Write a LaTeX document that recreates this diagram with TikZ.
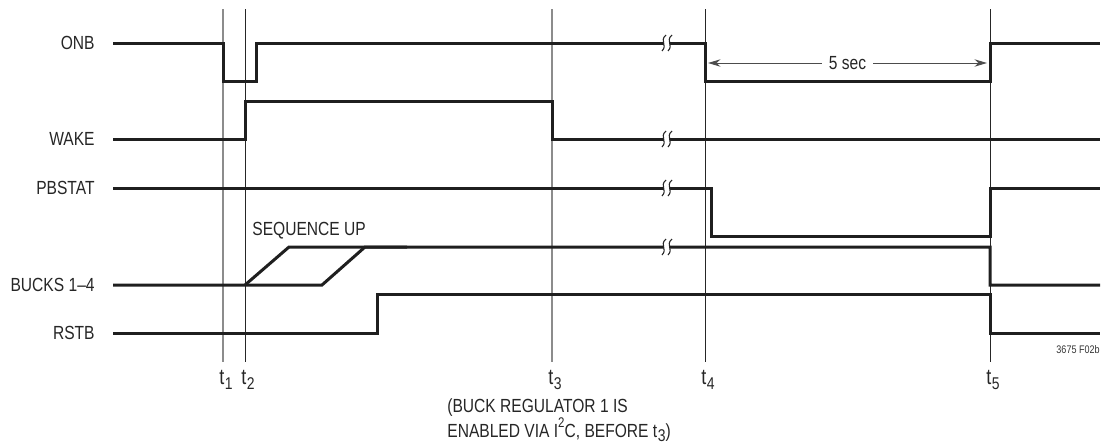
\documentclass[tikz,border=0pt]{standalone}
\usepackage{fontspec}
\setmainfont{Liberation Sans}[FakeStretch=0.82]
\usetikzlibrary{arrows.meta}
\newcommand{\tsub}[1]{t\kern0.3pt\raisebox{-0.45ex}{\fontsize{8.5}{9}\selectfont #1}}

\begin{document}
\begin{tikzpicture}[
  x=0.5pt,y=-0.5pt,
  font=\fontsize{9.5}{10}\selectfont,
  >={Stealth[length=2.2mm,width=1.3mm]},
  sig/.style={line width=1.5pt,draw=black!88,line join=miter},
  timeline/.style={line width=0.5pt,draw=black!85},
  timeline2/.style={line width=0.6pt,draw=black!45},
  siglabel/.style={anchor=east,inner sep=0pt,text=black!85},
  tlabel/.style={anchor=base,inner sep=0pt,text=black!85,font=\fontsize{11}{12}\selectfont},
  dim/.style={<->,line width=0.5pt,draw=black!70},
  brk/.pic={
    \fill[white] (-3,-4) rectangle (3,4);
    \draw[line width=0.55pt,black!85] (-1,-8) .. controls (-8,-2) and (1,2) .. (-5,8);
    \draw[line width=0.55pt,black!85] (5,-8) .. controls (-2,-2) and (7,2) .. (1,8);
  },
]
\useasboundingbox (0,0) rectangle (1105,445);

% time markers
\coordinate (t1) at (223,9);
\coordinate (t2) at (245,9);
\coordinate (t3) at (552,9);
\coordinate (t4) at (705,9);
\coordinate (t5) at (990,9);
\draw[timeline2] (t1) -- ++(0,353);
\draw[timeline] (t2) -- ++(0,353);
\draw[timeline2] (t3) -- ++(0,353);
\draw[timeline] (t4) -- ++(0,353);
\draw[timeline] (t5) -- ++(0,353);
\node[tlabel] (lt1) at (226,384) {\tsub{1}};
\node[tlabel] (lt2) at (248,384) {\tsub{2}};
\node[tlabel] (lt3) at (555,384) {\tsub{3}};
\node[tlabel] (lt4) at (708,384) {\tsub{4}};
\node[tlabel] (lt5) at (993,384) {\tsub{5}};

% signal names
\node[siglabel] (onb) at (95,43) {ONB};
\node[siglabel] (wake) at (95,139) {WAKE};
\node[siglabel] (pbstat) at (95,188) {PBSTAT};
\node[siglabel] (bucks) at (95,285) {BUCKS 1--4};
\node[siglabel] (rstb) at (95,333) {RSTB};

% waveforms
\draw[sig] (113,43) -- (223,43) -- (223,81) -- (256,81) -- (256,43) -- (705,43)
  -- (705,81) -- (990,81) -- (990,43) -- (1100,43);
\draw[sig] (113,139) -- (245,139) -- (245,101) -- (552,101) -- (552,139) -- (1100,139);
\draw[sig] (113,188) -- (711,188) -- (711,236) -- (990,236) -- (990,188) -- (1100,188);
\draw[sig] (113,285) -- (245,285) -- (289,247) -- (990,247) -- (990,285) -- (1100,285);
\draw[sig] (245,285) -- (322,285) -- (365,247) -- (407,247);
\draw[sig] (113,333) -- (377,333) -- (377,294) -- (990,294) -- (990,333) -- (1100,333);

% breaks
\pic at (667,43) {brk};
\pic at (667,139) {brk};
\pic at (667,188) {brk};
\pic at (667,247) {brk};

\node[anchor=base west,inner sep=0pt,text=black!85] (seq) at (252,235) {SEQUENCE UP};

% 5 sec
\coordinate (d1) at (708,63);
\coordinate (d2) at (987,63);
\draw[dim] (d1) -- node[fill=white,inner ysep=1pt,inner xsep=3.5pt,text=black!85] (fivesec) {5 sec} (d2);

\node[anchor=base west,align=left,inner sep=0pt,text=black!85] (note) at (447,437)
  {(BUCK REGULATOR 1 IS\\ENABLED VIA I\raisebox{0.9ex}{\fontsize{7}{7}\selectfont 2}C, BEFORE \tsub{3})};
\node[anchor=base east,inner sep=0pt,font=\fontsize{5.5}{6}\selectfont,text=black!80] (fig) at (1100,353) {3675 F02b};
\end{tikzpicture}
\end{document}
